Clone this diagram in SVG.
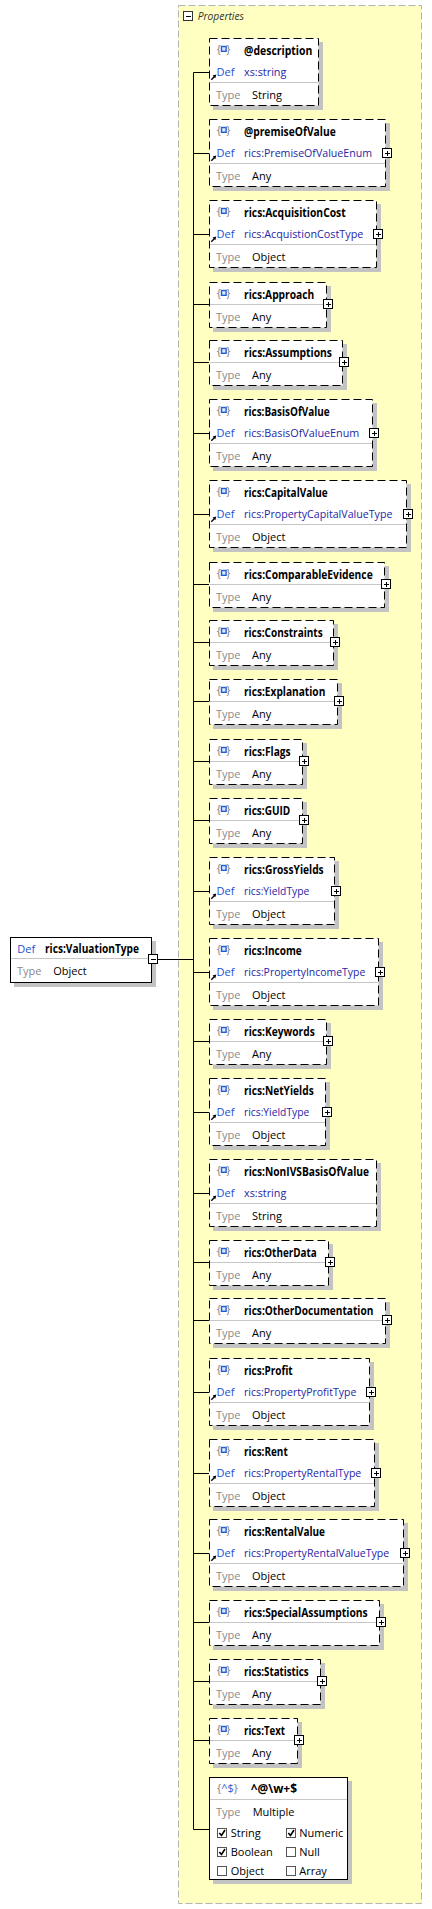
<svg xmlns="http://www.w3.org/2000/svg" xmlns:xlink="http://www.w3.org/1999/xlink" width="432" height="1909" viewBox="0 0 432 1909">
<style>
.f{font-family:"Open Sans","Noto Sans","DejaVu Sans",sans-serif;font-size:11px}
.b{font-weight:bold;fill:#000;font-size:12px}
.df{fill:#1b4fd8}
.dv{fill:#2626a6;font-size:11.5px}
.tl{fill:#8a8a8a}
.v{fill:#000}
.br{fill:#7a7a7a}
.bx{fill:#fff;stroke:#000;stroke-dasharray:8 4}
.sb{fill:#fff;stroke:#000}
.sh{fill:#c3c3c3}
.sp{stroke:#c6c6c6}
.cn{stroke:#000;fill:none}
.ck{fill:#fff;stroke:#555}
.cm{fill:none;stroke:#000;stroke-width:1.6}
</style>
<defs>
<g id="ic"><text class="f br" x="7.8" y="15">{</text><text class="f br" x="17.3" y="15">}</text><rect x="12.5" y="8.5" width="4.6" height="4.8" fill="#dce8ff" stroke="#1f5fd6" stroke-width="1.4"/></g>
<g id="pl"><rect x="-4.5" y="-4.5" width="9" height="9" fill="#fff" stroke="#000"/><path d="M-2.5 0H2.5M0 -2.5V2.5" stroke="#000" shape-rendering="crispEdges"/></g>
<g id="ar"><path d="M2.3 41.7L5.3 38.7" stroke="#000" stroke-width="1.3"/><path d="M7.3 36.6L3.6 37.6L6.3 40.3Z" fill="#000"/></g>
</defs>
<rect width="432" height="1909" fill="#fff"/>
<g id="container">
<rect x="178.5" y="5.5" width="243" height="1898" fill="#ffffc2" stroke="#b4b4b4" stroke-dasharray="7 3"/>
<rect x="183.5" y="11.5" width="9" height="9" fill="#fff" stroke="#333"/>
<path d="M185.5 16H190.5" stroke="#000" shape-rendering="crispEdges"/>
<text class="f" x="197.7" y="19.5" font-style="italic" fill="#333" textLength="46.3" lengthAdjust="spacingAndGlyphs">Properties</text>
</g>
<g id="connectors" class="cn">
<path d="M193.5 72.5V1829.5"/>
<path d="M157 959.5H193.5"/>
<path d="M193.5 72.5H209M193.5 153.5H209M193.5 234.5H209M193.5 304.5H209M193.5 362.5H209M193.5 433.5H209M193.5 514.5H209M193.5 584.5H209M193.5 642.5H209M193.5 701.5H209M193.5 761.5H209M193.5 820.5H209M193.5 891.5H209M193.5 972.5H209M193.5 1041.5H209M193.5 1112.5H209M193.5 1193.5H209M193.5 1262.5H209M193.5 1320.5H209M193.5 1392.5H209M193.5 1473.5H209M193.5 1553.5H209M193.5 1622.5H209M193.5 1681.5H209M193.5 1740.5H209M193.5 1829.5H209"/>
</g>
<g id="root" transform="translate(10,937)">
<rect class="sh" x="4" y="4" width="142" height="46"/>
<rect class="sb" x="0.5" y="0.5" width="141" height="45"/>
<text class="f df" x="7.3" y="15.5">Def</text>
<text class="f b" x="35" y="15.5" textLength="94" lengthAdjust="spacingAndGlyphs">rics:ValuationType</text>
<line class="sp" x1="1" y1="21.5" x2="141" y2="21.5"/>
<text class="f tl" x="7" y="37.5">Type</text>
<text class="f v" x="43.3" y="37.5">Object</text>
<rect x="138.5" y="17.5" width="9" height="9" fill="#fff" stroke="#000"/>
<path d="M140.5 22H145.5" stroke="#000" shape-rendering="crispEdges"/>
</g>
<g id="n1" transform="translate(209,38)">
<rect class="sh" x="4" y="4" width="110" height="68"/><rect class="bx" x="0.5" y="0.5" width="109" height="67"/>
<use href="#ic"/><text class="f b" x="35" y="17" textLength="68.4" lengthAdjust="spacingAndGlyphs">@description</text>
<use href="#ar"/><text class="f df" x="7.5" y="38">Def</text><text class="f dv" x="35" y="38" textLength="42.4" lengthAdjust="spacingAndGlyphs">xs:string</text>
<line class="sp" x1="1" y1="44.5" x2="109" y2="44.5"/>
<text class="f tl" x="7" y="61">Type</text><text class="f v" x="43" y="61">String</text>
</g>
<g id="n2" transform="translate(209,119)">
<rect class="sh" x="4" y="4" width="177" height="68"/><rect class="bx" x="0.5" y="0.5" width="176" height="67"/>
<use href="#ic"/><text class="f b" x="35" y="17" textLength="91.7" lengthAdjust="spacingAndGlyphs">@premiseOfValue</text>
<use href="#ar"/><text class="f df" x="7.5" y="38">Def</text><text class="f dv" x="35" y="38" textLength="128" lengthAdjust="spacingAndGlyphs">rics:PremiseOfValueEnum</text>
<line class="sp" x1="1" y1="44.5" x2="176" y2="44.5"/>
<text class="f tl" x="7" y="61">Type</text><text class="f v" x="43" y="61">Any</text>
<use href="#pl" x="178" y="34"/>
</g>
<g id="n3" transform="translate(209,200)">
<rect class="sh" x="4" y="4" width="168" height="68"/><rect class="bx" x="0.5" y="0.5" width="167" height="67"/>
<use href="#ic"/><text class="f b" x="35" y="17" textLength="101.7" lengthAdjust="spacingAndGlyphs">rics:AcquisitionCost</text>
<use href="#ar"/><text class="f df" x="7.5" y="38">Def</text><text class="f dv" x="35" y="38" textLength="119.3" lengthAdjust="spacingAndGlyphs">rics:AcquistionCostType</text>
<line class="sp" x1="1" y1="44.5" x2="167" y2="44.5"/>
<text class="f tl" x="7" y="61">Type</text><text class="f v" x="43" y="61">Object</text>
<use href="#pl" x="169" y="34"/>
</g>
<g id="n4" transform="translate(209,282)">
<rect class="sh" x="4" y="4" width="118" height="46"/><rect class="bx" x="0.5" y="0.5" width="117" height="45"/>
<use href="#ic"/><text class="f b" x="35" y="17" textLength="70.3" lengthAdjust="spacingAndGlyphs">rics:Approach</text>
<line class="sp" x1="1" y1="22.5" x2="117" y2="22.5"/>
<text class="f tl" x="7" y="39">Type</text><text class="f v" x="43" y="39">Any</text>
<use href="#pl" x="119" y="22"/>
</g>
<g id="n5" transform="translate(209,340)">
<rect class="sh" x="4" y="4" width="134" height="46"/><rect class="bx" x="0.5" y="0.5" width="133" height="45"/>
<use href="#ic"/><text class="f b" x="35" y="17" textLength="88" lengthAdjust="spacingAndGlyphs">rics:Assumptions</text>
<line class="sp" x1="1" y1="22.5" x2="133" y2="22.5"/>
<text class="f tl" x="7" y="39">Type</text><text class="f v" x="43" y="39">Any</text>
<use href="#pl" x="135" y="22"/>
</g>
<g id="n6" transform="translate(209,399)">
<rect class="sh" x="4" y="4" width="164" height="68"/><rect class="bx" x="0.5" y="0.5" width="163" height="67"/>
<use href="#ic"/><text class="f b" x="35" y="17" textLength="85.7" lengthAdjust="spacingAndGlyphs">rics:BasisOfValue</text>
<use href="#ar"/><text class="f df" x="7.5" y="38">Def</text><text class="f dv" x="35" y="38" textLength="115.3" lengthAdjust="spacingAndGlyphs">rics:BasisOfValueEnum</text>
<line class="sp" x1="1" y1="44.5" x2="163" y2="44.5"/>
<text class="f tl" x="7" y="61">Type</text><text class="f v" x="43" y="61">Any</text>
<use href="#pl" x="165" y="34"/>
</g>
<g id="n7" transform="translate(209,480)">
<rect class="sh" x="4" y="4" width="198" height="68"/><rect class="bx" x="0.5" y="0.5" width="197" height="67"/>
<use href="#ic"/><text class="f b" x="35" y="17" textLength="83.7" lengthAdjust="spacingAndGlyphs">rics:CapitalValue</text>
<use href="#ar"/><text class="f df" x="7.5" y="38">Def</text><text class="f dv" x="35" y="38" textLength="148.4" lengthAdjust="spacingAndGlyphs">rics:PropertyCapitalValueType</text>
<line class="sp" x1="1" y1="44.5" x2="197" y2="44.5"/>
<text class="f tl" x="7" y="61">Type</text><text class="f v" x="43" y="61">Object</text>
<use href="#pl" x="199" y="34"/>
</g>
<g id="n8" transform="translate(209,562)">
<rect class="sh" x="4" y="4" width="176" height="46"/><rect class="bx" x="0.5" y="0.5" width="175" height="45"/>
<use href="#ic"/><text class="f b" x="35" y="17" textLength="128.7" lengthAdjust="spacingAndGlyphs">rics:ComparableEvidence</text>
<line class="sp" x1="1" y1="22.5" x2="175" y2="22.5"/>
<text class="f tl" x="7" y="39">Type</text><text class="f v" x="43" y="39">Any</text>
<use href="#pl" x="177" y="22"/>
</g>
<g id="n9" transform="translate(209,620)">
<rect class="sh" x="4" y="4" width="125" height="46"/><rect class="bx" x="0.5" y="0.5" width="124" height="45"/>
<use href="#ic"/><text class="f b" x="35" y="17" textLength="78.7" lengthAdjust="spacingAndGlyphs">rics:Constraints</text>
<line class="sp" x1="1" y1="22.5" x2="124" y2="22.5"/>
<text class="f tl" x="7" y="39">Type</text><text class="f v" x="43" y="39">Any</text>
<use href="#pl" x="126" y="22"/>
</g>
<g id="n10" transform="translate(209,679)">
<rect class="sh" x="4" y="4" width="129" height="46"/><rect class="bx" x="0.5" y="0.5" width="128" height="45"/>
<use href="#ic"/><text class="f b" x="35" y="17" textLength="81.3" lengthAdjust="spacingAndGlyphs">rics:Explanation</text>
<line class="sp" x1="1" y1="22.5" x2="128" y2="22.5"/>
<text class="f tl" x="7" y="39">Type</text><text class="f v" x="43" y="39">Any</text>
<use href="#pl" x="130" y="22"/>
</g>
<g id="n11" transform="translate(209,739)">
<rect class="sh" x="4" y="4" width="94" height="46"/><rect class="bx" x="0.5" y="0.5" width="93" height="45"/>
<use href="#ic"/><text class="f b" x="35" y="17" textLength="46.7" lengthAdjust="spacingAndGlyphs">rics:Flags</text>
<line class="sp" x1="1" y1="22.5" x2="93" y2="22.5"/>
<text class="f tl" x="7" y="39">Type</text><text class="f v" x="43" y="39">Any</text>
<use href="#pl" x="95" y="22"/>
</g>
<g id="n12" transform="translate(209,798)">
<rect class="sh" x="4" y="4" width="94" height="46"/><rect class="bx" x="0.5" y="0.5" width="93" height="45"/>
<use href="#ic"/><text class="f b" x="35" y="17" textLength="46.3" lengthAdjust="spacingAndGlyphs">rics:GUID</text>
<line class="sp" x1="1" y1="22.5" x2="93" y2="22.5"/>
<text class="f tl" x="7" y="39">Type</text><text class="f v" x="43" y="39">Any</text>
<use href="#pl" x="95" y="22"/>
</g>
<g id="n13" transform="translate(209,857)">
<rect class="sh" x="4" y="4" width="126" height="68"/><rect class="bx" x="0.5" y="0.5" width="125" height="67"/>
<use href="#ic"/><text class="f b" x="35" y="17" textLength="79.7" lengthAdjust="spacingAndGlyphs">rics:GrossYields</text>
<use href="#ar"/><text class="f df" x="7.5" y="38">Def</text><text class="f dv" x="35" y="38" textLength="65.3" lengthAdjust="spacingAndGlyphs">rics:YieldType</text>
<line class="sp" x1="1" y1="44.5" x2="125" y2="44.5"/>
<text class="f tl" x="7" y="61">Type</text><text class="f v" x="43" y="61">Object</text>
<use href="#pl" x="127" y="34"/>
</g>
<g id="n14" transform="translate(209,938)">
<rect class="sh" x="4" y="4" width="170" height="68"/><rect class="bx" x="0.5" y="0.5" width="169" height="67"/>
<use href="#ic"/><text class="f b" x="35" y="17" textLength="57.7" lengthAdjust="spacingAndGlyphs">rics:Income</text>
<use href="#ar"/><text class="f df" x="7.5" y="38">Def</text><text class="f dv" x="35" y="38" textLength="121.3" lengthAdjust="spacingAndGlyphs">rics:PropertyIncomeType</text>
<line class="sp" x1="1" y1="44.5" x2="169" y2="44.5"/>
<text class="f tl" x="7" y="61">Type</text><text class="f v" x="43" y="61">Object</text>
<use href="#pl" x="171" y="34"/>
</g>
<g id="n15" transform="translate(209,1019)">
<rect class="sh" x="4" y="4" width="118" height="46"/><rect class="bx" x="0.5" y="0.5" width="117" height="45"/>
<use href="#ic"/><text class="f b" x="35" y="17" textLength="70.7" lengthAdjust="spacingAndGlyphs">rics:Keywords</text>
<line class="sp" x1="1" y1="22.5" x2="117" y2="22.5"/>
<text class="f tl" x="7" y="39">Type</text><text class="f v" x="43" y="39">Any</text>
<use href="#pl" x="119" y="22"/>
</g>
<g id="n16" transform="translate(209,1078)">
<rect class="sh" x="4" y="4" width="117" height="68"/><rect class="bx" x="0.5" y="0.5" width="116" height="67"/>
<use href="#ic"/><text class="f b" x="35" y="17" textLength="69.7" lengthAdjust="spacingAndGlyphs">rics:NetYields</text>
<use href="#ar"/><text class="f df" x="7.5" y="38">Def</text><text class="f dv" x="35" y="38" textLength="65.3" lengthAdjust="spacingAndGlyphs">rics:YieldType</text>
<line class="sp" x1="1" y1="44.5" x2="116" y2="44.5"/>
<text class="f tl" x="7" y="61">Type</text><text class="f v" x="43" y="61">Object</text>
<use href="#pl" x="118" y="34"/>
</g>
<g id="n17" transform="translate(209,1159)">
<rect class="sh" x="4" y="4" width="168" height="68"/><rect class="bx" x="0.5" y="0.5" width="167" height="67"/>
<use href="#ic"/><text class="f b" x="35" y="17" textLength="125" lengthAdjust="spacingAndGlyphs">rics:NonIVSBasisOfValue</text>
<use href="#ar"/><text class="f df" x="7.5" y="38">Def</text><text class="f dv" x="35" y="38" textLength="42.3" lengthAdjust="spacingAndGlyphs">xs:string</text>
<line class="sp" x1="1" y1="44.5" x2="167" y2="44.5"/>
<text class="f tl" x="7" y="61">Type</text><text class="f v" x="43" y="61">String</text>
</g>
<g id="n18" transform="translate(209,1240)">
<rect class="sh" x="4" y="4" width="120" height="46"/><rect class="bx" x="0.5" y="0.5" width="119" height="45"/>
<use href="#ic"/><text class="f b" x="35" y="17" textLength="72.7" lengthAdjust="spacingAndGlyphs">rics:OtherData</text>
<line class="sp" x1="1" y1="22.5" x2="119" y2="22.5"/>
<text class="f tl" x="7" y="39">Type</text><text class="f v" x="43" y="39">Any</text>
<use href="#pl" x="121" y="22"/>
</g>
<g id="n19" transform="translate(209,1298)">
<rect class="sh" x="4" y="4" width="177" height="46"/><rect class="bx" x="0.5" y="0.5" width="176" height="45"/>
<use href="#ic"/><text class="f b" x="35" y="17" textLength="129.3" lengthAdjust="spacingAndGlyphs">rics:OtherDocumentation</text>
<line class="sp" x1="1" y1="22.5" x2="176" y2="22.5"/>
<text class="f tl" x="7" y="39">Type</text><text class="f v" x="43" y="39">Any</text>
<use href="#pl" x="178" y="22"/>
</g>
<g id="n20" transform="translate(209,1358)">
<rect class="sh" x="4" y="4" width="161" height="68"/><rect class="bx" x="0.5" y="0.5" width="160" height="67"/>
<use href="#ic"/><text class="f b" x="35" y="17" textLength="48.7" lengthAdjust="spacingAndGlyphs">rics:Profit</text>
<use href="#ar"/><text class="f df" x="7.5" y="38">Def</text><text class="f dv" x="35" y="38" textLength="112.3" lengthAdjust="spacingAndGlyphs">rics:PropertyProfitType</text>
<line class="sp" x1="1" y1="44.5" x2="160" y2="44.5"/>
<text class="f tl" x="7" y="61">Type</text><text class="f v" x="43" y="61">Object</text>
<use href="#pl" x="162" y="34"/>
</g>
<g id="n21" transform="translate(209,1439)">
<rect class="sh" x="4" y="4" width="166" height="68"/><rect class="bx" x="0.5" y="0.5" width="165" height="67"/>
<use href="#ic"/><text class="f b" x="35" y="17" textLength="43.7" lengthAdjust="spacingAndGlyphs">rics:Rent</text>
<use href="#ar"/><text class="f df" x="7.5" y="38">Def</text><text class="f dv" x="35" y="38" textLength="117.3" lengthAdjust="spacingAndGlyphs">rics:PropertyRentalType</text>
<line class="sp" x1="1" y1="44.5" x2="165" y2="44.5"/>
<text class="f tl" x="7" y="61">Type</text><text class="f v" x="43" y="61">Object</text>
<use href="#pl" x="167" y="34"/>
</g>
<g id="n22" transform="translate(209,1519)">
<rect class="sh" x="4" y="4" width="195" height="68"/><rect class="bx" x="0.5" y="0.5" width="194" height="67"/>
<use href="#ic"/><text class="f b" x="35" y="17" textLength="81" lengthAdjust="spacingAndGlyphs">rics:RentalValue</text>
<use href="#ar"/><text class="f df" x="7.5" y="38">Def</text><text class="f dv" x="35" y="38" textLength="145.3" lengthAdjust="spacingAndGlyphs">rics:PropertyRentalValueType</text>
<line class="sp" x1="1" y1="44.5" x2="194" y2="44.5"/>
<text class="f tl" x="7" y="61">Type</text><text class="f v" x="43" y="61">Object</text>
<use href="#pl" x="196" y="34"/>
</g>
<g id="n23" transform="translate(209,1600)">
<rect class="sh" x="4" y="4" width="171" height="46"/><rect class="bx" x="0.5" y="0.5" width="170" height="45"/>
<use href="#ic"/><text class="f b" x="35" y="17" textLength="123.7" lengthAdjust="spacingAndGlyphs">rics:SpecialAssumptions</text>
<line class="sp" x1="1" y1="22.5" x2="170" y2="22.5"/>
<text class="f tl" x="7" y="39">Type</text><text class="f v" x="43" y="39">Any</text>
<use href="#pl" x="172" y="22"/>
</g>
<g id="n24" transform="translate(209,1659)">
<rect class="sh" x="4" y="4" width="112" height="46"/><rect class="bx" x="0.5" y="0.5" width="111" height="45"/>
<use href="#ic"/><text class="f b" x="35" y="17" textLength="64.7" lengthAdjust="spacingAndGlyphs">rics:Statistics</text>
<line class="sp" x1="1" y1="22.5" x2="111" y2="22.5"/>
<text class="f tl" x="7" y="39">Type</text><text class="f v" x="43" y="39">Any</text>
<use href="#pl" x="113" y="22"/>
</g>
<g id="n25" transform="translate(209,1718)">
<rect class="sh" x="4" y="4" width="89" height="46"/><rect class="bx" x="0.5" y="0.5" width="88" height="45"/>
<use href="#ic"/><text class="f b" x="35" y="17" textLength="41" lengthAdjust="spacingAndGlyphs">rics:Text</text>
<line class="sp" x1="1" y1="22.5" x2="88" y2="22.5"/>
<text class="f tl" x="7" y="39">Type</text><text class="f v" x="43" y="39">Any</text>
<use href="#pl" x="90" y="22"/>
</g>
<g id="n26" transform="translate(209,1777)">
<rect class="sh" x="4" y="4" width="139" height="103"/><rect class="sb" x="0.5" y="0.5" width="138" height="102"/>
<text class="f" x="8" y="15"><tspan class="br">{</tspan><tspan fill="#1f5fd6">^$</tspan><tspan class="br">}</tspan></text>
<text class="f b" x="41.7" y="15.5" textLength="46.3" lengthAdjust="spacingAndGlyphs">^@\w+$</text>
<line class="sp" x1="1" y1="22.5" x2="138" y2="22.5"/>
<text class="f tl" x="7" y="39">Type</text><text class="f v" x="43.7" y="39">Multiple</text>
<rect class="ck" x="8.5" y="51.5" width="9" height="9"/><path class="cm" d="M10.3 56L12.5 58.4L16 53"/>
<text class="f v" x="21.7" y="59.5">String</text>
<rect class="ck" x="77.5" y="51.5" width="9" height="9"/><path class="cm" d="M79.3 56L81.5 58.4L85 53"/>
<text class="f v" x="90.3" y="59.5">Numeric</text>
<rect class="ck" x="8.5" y="70.5" width="9" height="9"/><path class="cm" d="M10.3 75L12.5 77.4L16 72"/>
<text class="f v" x="21.7" y="78.5">Boolean</text>
<rect class="ck" x="77.5" y="70.5" width="9" height="9"/>
<text class="f v" x="90.3" y="78.5">Null</text>
<rect class="ck" x="8.5" y="89.5" width="9" height="9"/>
<text class="f v" x="21.7" y="97.5">Object</text>
<rect class="ck" x="77.5" y="89.5" width="9" height="9"/>
<text class="f v" x="90.3" y="97.5">Array</text>
</g>
</svg>
